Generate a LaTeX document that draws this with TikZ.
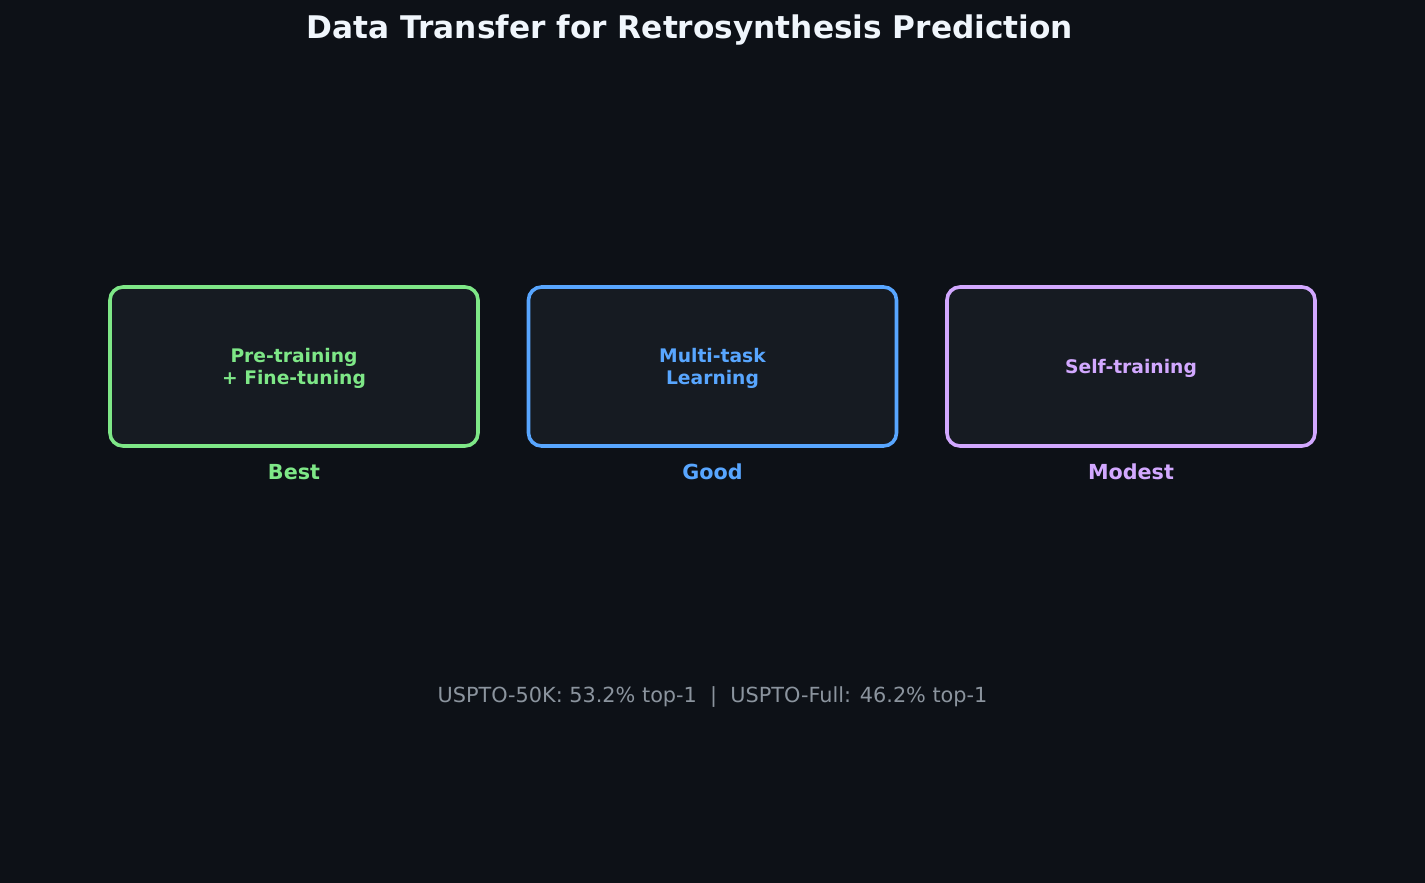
\documentclass[tikz,border=0pt]{standalone}
\usepackage{fontspec}
\setmainfont{DejaVu Sans}
\definecolor{bgc}{HTML}{0D1117}
\definecolor{boxc}{HTML}{161B22}
\definecolor{grn}{HTML}{7EE787}
\definecolor{blu}{HTML}{58A6FF}
\definecolor{pur}{HTML}{D2A8FF}
\definecolor{gry}{HTML}{8B949E}
\definecolor{ttl}{HTML}{F0F6FC}
\begin{document}
\begin{tikzpicture}[x=1pt,y=-1pt,
  card/.style={draw, fill=boxc, line width=3.6pt, rounded corners=13pt, minimum width=368pt, minimum height=159pt, inner sep=0pt},
  cardtext/.style={font=\fontsize{18.7}{22}\selectfont\bfseries, align=center},
  ranktext/.style={font=\fontsize{20.7}{24}\selectfont\bfseries},
]
\fill[bgc] (0,0) rectangle (1425,883);
\useasboundingbox (0,0) rectangle (1425,883);
\node[font=\fontsize{31.2}{36}\selectfont\bfseries, text=ttl] (title) at (690,30) {Data Transfer for Retrosynthesis Prediction};
\node[card, draw=grn] (b1) at (294,366.5) {};
\node[card, draw=blu] (b2) at (712.5,366.5) {};
\node[card, draw=pur] (b3) at (1131,366.5) {};
\node[cardtext, text=grn] (t1) at ([yshift=-2pt]b1.center) {Pre-training\\+ Fine-tuning};
\node[cardtext, text=blu] (t2) at ([yshift=-2pt]b2.center) {Multi-task\\Learning};
\node[cardtext, text=pur] (t3) at ([yshift=-2pt]b3.center) {Self-training};
\node[ranktext, text=grn] (r1) at (294,472) {Best};
\node[ranktext, text=blu] (r2) at (712.5,472) {Good};
\node[ranktext, text=pur] (r3) at (1131,472) {Modest};
\node[font=\fontsize{20.8}{24}\selectfont, text=gry] (foot) at (712.5,697) {USPTO-50K: 53.2\% top-1\ \ |\ \ USPTO-Full: 46.2\% top-1};
\end{tikzpicture}
\end{document}
